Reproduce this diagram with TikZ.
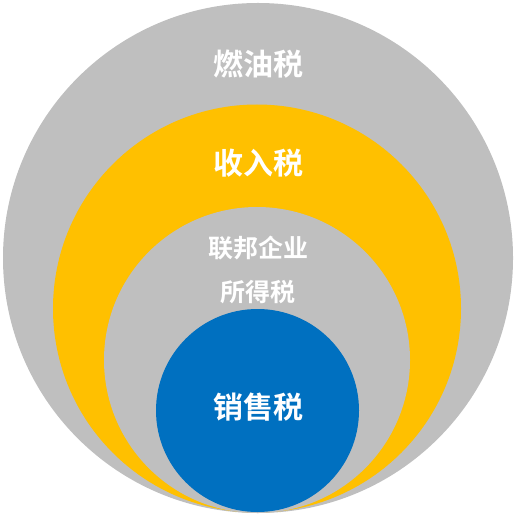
\documentclass[tikz,border=0pt]{standalone}
\usepackage{fontspec}
\newfontfamily\cjk{Noto Sans CJK SC}[BoldFont=* Bold]
\definecolor{cgray}{HTML}{BFBFBF}
\definecolor{cyellow}{HTML}{FFC000}
\definecolor{cblue}{HTML}{0070C0}
\begin{document}
\begin{tikzpicture}[x=1pt,y=-1pt,
  lbl/.style={text=white,font=\cjk\bfseries\fontsize{30}{32}\selectfont,inner sep=0pt},
  lblsmall/.style={text=white,font=\cjk\bfseries\fontsize{25}{27}\selectfont,inner sep=0pt}]
\useasboundingbox (0,0) rectangle (516,518);
\fill[cgray] (258,258) circle[radius=255];
\fill[cyellow] (257,308.5) circle[radius=204];
\fill[cgray] (257,360) circle[radius=153];
\fill[cblue] (257.5,410.5) circle[radius=101.5];
\node[lbl] (fuel) at (258,64) {燃油税};
\node[lbl] (income) at (258,163) {收入税};
\node[lblsmall] (corp1) at (258,248) {联邦企业};
\node[lblsmall] (corp2) at (258,292) {所得税};
\node[lbl] (sales) at (258,407) {销售税};
\end{tikzpicture}
\end{document}
